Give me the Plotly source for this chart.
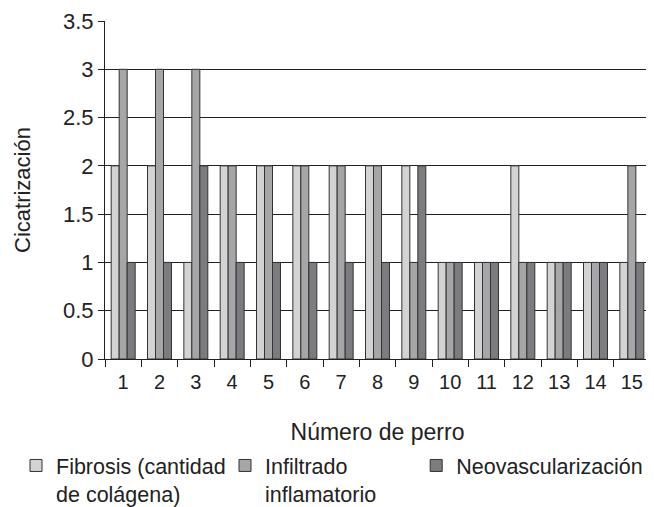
import plotly.graph_objects as go

dogs = [str(i) for i in range(1, 16)]
fibrosis = [2, 2, 1, 2, 2, 2, 2, 2, 2, 1, 1, 2, 1, 1, 1]
infiltrado = [3, 3, 3, 2, 2, 2, 2, 2, 1, 1, 1, 1, 1, 1, 2]
neovasc = [1, 1, 2, 1, 1, 1, 1, 1, 2, 1, 1, 1, 1, 1, 1]
names = ["Fibrosis (cantidad<br>de colágena)", "Infiltrado<br>inflamatorio", "Neovascularización"]
colors = ["#d3d3d3", "#a6a6a8", "#7c7c80"]
legend_ids = ["legend2", "legend3", "legend4"]

FONT = "Liberation Sans"

fig = go.Figure()
for vals, name, col, lg in zip([fibrosis, infiltrado, neovasc], names, colors, legend_ids):
    fig.add_trace(go.Bar(x=dogs, y=vals, name=name, legend=lg, showlegend=True,
                         marker=dict(color=col, line=dict(color="#333333", width=1))))

legend_common = dict(orientation="v", y=-0.2544, xanchor="left", yanchor="top",
                     font=dict(size=21.5, family=FONT, color="#222"), itemwidth=30,
                     bgcolor="rgba(0,0,0,0)", valign="top", visible=True)

fig.update_layout(
    width=646, height=499,
    margin=dict(l=97, r=4, t=13, b=148, autoexpand=False),
    paper_bgcolor="white", plot_bgcolor="white",
    showlegend=True,
    barmode="group", bargap=0.34, bargroupgap=0,
    font=dict(family=FONT, size=20, color="#222222"),
    legend2=dict(x=-0.1633, **legend_common),
    legend3=dict(x=0.2202, **legend_common),
    legend4=dict(x=0.571, **legend_common),
    xaxis=dict(title=dict(text="Número de perro", standoff=31,
                          font=dict(size=23, family=FONT, color="#222")),
               type="category",
               automargin=False, tickfont=dict(size=20, family=FONT), ticklabelstandoff=5,
               ticks="outside", tickson="boundaries", ticklen=7, tickcolor="#222",
               showline=True, linecolor="#222", linewidth=1, mirror=False,
               showgrid=False),
    yaxis=dict(title=dict(text="Cicatrización", standoff=26,
                          font=dict(size=22, family=FONT, color="#222")),
               range=[0, 3.5], dtick=0.5, tickfont=dict(size=22, family=FONT),
               automargin=False,
               ticks="outside", ticklen=6, tickcolor="#222",
               showline=True, linecolor="#222", linewidth=1, mirror=True,
               showgrid=True, gridcolor="#222", gridwidth=1, zeroline=False),
)
fig.add_shape(type="line", xref="paper", yref="paper", x0=1, x1=1, y0=0, y1=1,
              line=dict(color="#222", width=1))
fig.write_html("out.html")
